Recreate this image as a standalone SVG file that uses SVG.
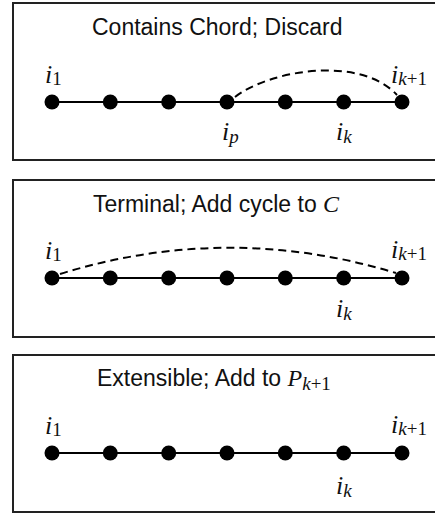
<svg xmlns="http://www.w3.org/2000/svg" width="435" height="515" viewBox="0 0 435 515">
<style>
.frame{fill:#fff;stroke:#222;stroke-width:2}
.title{font-family:"Liberation Sans",Arial,sans-serif;font-size:23px;fill:#111}
.math{font-family:"Liberation Serif","Times New Roman",serif;font-style:italic;font-size:26px;fill:#111}
.sub{font-size:19px}
.up{font-style:normal}
.dot{fill:#000}
.edge{stroke:#000;stroke-width:2;fill:none}
.chord{stroke:#000;stroke-width:2;fill:none;stroke-dasharray:8 5}
</style>
<rect width="435" height="515" fill="#fff"/>
<g id="panel1">
<rect class="frame" x="13" y="3" width="430" height="157"/>
<text class="title" x="92" y="35">Contains Chord; Discard</text>
</g>
<g id="panel2">
<rect class="frame" x="13" y="180" width="430" height="157"/>
<text class="title" x="93" y="212">Terminal; Add cycle to <tspan class="math" style="font-size:24px">C</tspan></text>
</g>
<g id="panel3">
<rect class="frame" x="13" y="355" width="430" height="157"/>
<text class="title" x="97" y="386">Extensible; Add to <tspan class="math" style="font-size:24px">P</tspan><tspan class="math sub" dy="4">k</tspan><tspan class="math sub up">+1</tspan></text>
</g>
<g id="connectors">
<path class="edge" d="M52 102H402"/>
<path class="chord" d="M235 97C270 70 360 55 397 95"/>
<path class="edge" d="M52 278H402"/>
<path class="chord" d="M60 274Q228 222 396 273"/>
<path class="edge" d="M52 453H402"/>
</g>
<g id="p1-nodes">
<g id="p1-n1"><circle class="dot" cx="52" cy="102" r="7.5"/><text class="math" x="45" y="83">i<tspan class="sub up" dy="2">1</tspan></text></g>
<g id="p1-n2"><circle class="dot" cx="110.3" cy="102" r="7.5"/></g>
<g id="p1-n3"><circle class="dot" cx="168.7" cy="102" r="7.5"/></g>
<g id="p1-n4"><circle class="dot" cx="227" cy="102" r="7.5"/><text class="math" x="222" y="140">i<tspan class="sub" dy="3">p</tspan></text></g>
<g id="p1-n5"><circle class="dot" cx="285.3" cy="102" r="7.5"/></g>
<g id="p1-n6"><circle class="dot" cx="343.7" cy="102" r="7.5"/><text class="math" x="336" y="140">i<tspan class="sub" dy="3">k</tspan></text></g>
<g id="p1-n7"><circle class="dot" cx="402" cy="102" r="7.5"/><text class="math" x="391" y="83">i<tspan class="sub" dy="2">k</tspan><tspan class="sub up">+1</tspan></text></g>
</g>
<g id="p2-nodes">
<g id="p2-n1"><circle class="dot" cx="52" cy="278" r="7.5"/><text class="math" x="45" y="259">i<tspan class="sub up" dy="2">1</tspan></text></g>
<g id="p2-n2"><circle class="dot" cx="110.3" cy="278" r="7.5"/></g>
<g id="p2-n3"><circle class="dot" cx="168.7" cy="278" r="7.5"/></g>
<g id="p2-n4"><circle class="dot" cx="227" cy="278" r="7.5"/></g>
<g id="p2-n5"><circle class="dot" cx="285.3" cy="278" r="7.5"/></g>
<g id="p2-n6"><circle class="dot" cx="343.7" cy="278" r="7.5"/><text class="math" x="336" y="317">i<tspan class="sub" dy="3">k</tspan></text></g>
<g id="p2-n7"><circle class="dot" cx="402" cy="278" r="7.5"/><text class="math" x="391" y="258">i<tspan class="sub" dy="2">k</tspan><tspan class="sub up">+1</tspan></text></g>
</g>
<g id="p3-nodes">
<g id="p3-n1"><circle class="dot" cx="52" cy="453" r="7.5"/><text class="math" x="45" y="434">i<tspan class="sub up" dy="2">1</tspan></text></g>
<g id="p3-n2"><circle class="dot" cx="110.3" cy="453" r="7.5"/></g>
<g id="p3-n3"><circle class="dot" cx="168.7" cy="453" r="7.5"/></g>
<g id="p3-n4"><circle class="dot" cx="227" cy="453" r="7.5"/></g>
<g id="p3-n5"><circle class="dot" cx="285.3" cy="453" r="7.5"/></g>
<g id="p3-n6"><circle class="dot" cx="343.7" cy="453" r="7.5"/><text class="math" x="336" y="494">i<tspan class="sub" dy="3">k</tspan></text></g>
<g id="p3-n7"><circle class="dot" cx="402" cy="453" r="7.5"/><text class="math" x="391" y="433">i<tspan class="sub" dy="2">k</tspan><tspan class="sub up">+1</tspan></text></g>
</g>
</svg>
